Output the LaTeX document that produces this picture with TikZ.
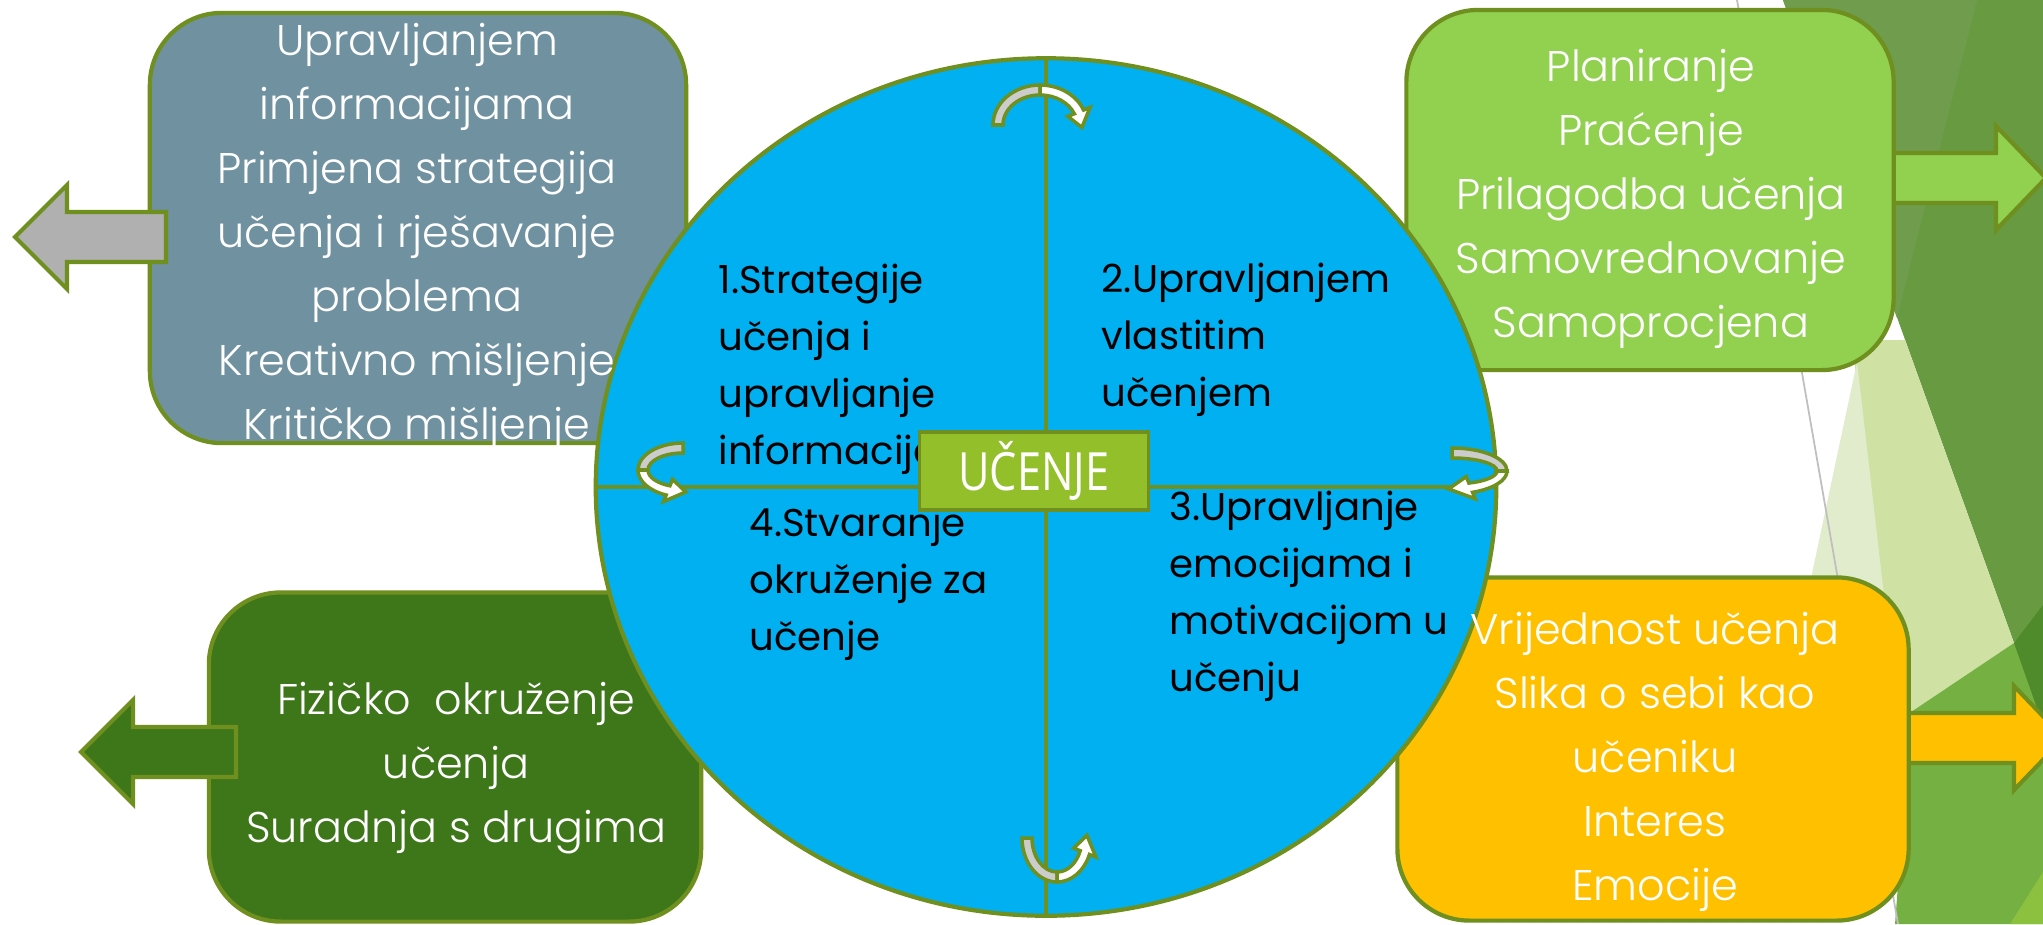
\documentclass[tikz,border=0pt]{standalone}
\usepackage{fontspec}
\setmainfont{Poppins Light}
\newfontfamily\quarterfont{Poppins}
\newfontfamily\hubfont[FakeStretch=0.82]{Open Sans}
\usetikzlibrary{shapes.geometric, positioning, calc}

\definecolor{rim}{HTML}{6F901F}
\definecolor{discblue}{HTML}{00B0F0}
\definecolor{slate}{HTML}{6F91A0}
\definecolor{leafgreen}{HTML}{92D050}
\definecolor{forest}{HTML}{3E761A}
\definecolor{gold}{HTML}{FFC000}
\definecolor{ash}{HTML}{B0B0B0}
\definecolor{hubgreen}{HTML}{93C02A}
\definecolor{facetdark}{HTML}{689A41}
\definecolor{facetband}{HTML}{6F9D4D}
\definecolor{facetpale}{HTML}{CFE1A3}
\definecolor{facetmist}{HTML}{E0ECCB}
\definecolor{facetmid}{HTML}{75B043}
\definecolor{facetdeep}{HTML}{4F8A2B}
\definecolor{facetlime}{HTML}{8CC13F}

\begin{document}
\begin{tikzpicture}[x=0.01cm, y=-0.01cm]
  % --- STYLE DEFINITIONS ---
  \tikzstyle{card}=[draw=rim, line width=1.2pt, rounded corners=0.72cm, inner sep=0pt, outer sep=0pt]
  \tikzstyle{cardtext}=[text=white, align=center, inner sep=0pt, font=\fontsize{12.2pt}{18.2pt}\selectfont]
  \tikzstyle{quartertext}=[text=black, align=left, anchor=west, inner sep=0pt, font=\quarterfont\fontsize{11pt}{16.2pt}\selectfont]
  \tikzstyle{blockarrow}=[draw=rim, line width=1.2pt, line join=miter]
  \tikzstyle{turnback}=[fill=black!20, draw=rim, line width=1pt]
  \tikzstyle{turnfront}=[fill=white, draw=rim, line width=1pt]

  % --- MACROS FOR BLOCK ARROWS ---
  \newcommand{\pointleft}[4]{ % style, tail x, tip x, centre y
    \draw[blockarrow, #1] (#2,#4-25) -- (#3+52,#4-25) -- (#3+52,#4-52) -- (#3,#4)
      -- (#3+52,#4+52) -- (#3+52,#4+25) -- (#2,#4+25) -- cycle;
  }
  \newcommand{\pointright}[4]{ % style, tail x, tip x, centre y
    \draw[blockarrow, #1] (#2,#4-25) -- (#3-50,#4-25) -- (#3-50,#4-52) -- (#3,#4)
      -- (#3-50,#4+52) -- (#3-50,#4+25) -- (#2,#4+25) -- cycle;
  }

  % --- MACRO FOR THE CURVED TURN ARROWS ---
  \newcommand{\turnarrow}[4]{ % position, transform, x radius, y radius
    \begin{scope}[shift={#1}, #2]
      \draw[turnback] (180:#3+5 and #4+5)
        arc[start angle=180, end angle=270, x radius=#3+5, y radius=#4+5]
        -- (270:#3-5 and #4-5)
        arc[start angle=270, end angle=180, x radius=#3-5, y radius=#4-5] -- cycle;
      \draw[turnfront] (270:#3+5 and #4+5)
        arc[start angle=270, end angle=338, x radius=#3+5, y radius=#4+5]
        -- (338:#3+12 and #4+12) -- (4:#3 and #4)
        -- (338:#3-12 and #4-12) -- (338:#3-5 and #4-5)
        arc[start angle=338, end angle=270, x radius=#3-5, y radius=#4-5] -- cycle;
    \end{scope}
  }

  \useasboundingbox (0,0) rectangle (2043,924);
  \clip (0,0) rectangle (2043,924);

  % =================================================================
  % BACKGROUND FACETS
  % =================================================================
  \fill[white] (0,0) rectangle (2043,924);
  \fill[facetdark] (1783,0) -- (2043,0) -- (2043,610) -- (2014,643) -- cycle;
  \fill[facetband] (1783,0) -- (1977,0) -- (1897,318) -- cycle;
  \fill[facetpale] (1855,365) -- (1855,340) -- (1905,340) -- (2014,643) -- (1911,712) -- (1880,712) -- cycle;
  \fill[facetmist] (1857,362) -- (1800,630) -- (1888,630) -- cycle;
  \fill[facetmid] (1911,712) -- (2014,643) -- (2043,620) -- (2043,924) -- (1895,924) -- cycle;
  \fill[facetdeep] (2014,643) -- (2043,605) -- (2043,725) -- cycle;
  \fill[facetlime] (2010,924) -- (2043,872) -- (2043,924) -- cycle;
  \draw[black!25, line width=0.5pt] (1737,0) -- (1898,924);

  % =================================================================
  % RIGHT ARROWS (under their boxes)
  % =================================================================
  \pointright{fill=leafgreen}{1850}{2046}{178}
  \pointright{fill=gold}{1880}{2064}{738}

  % =================================================================
  % THE FOUR BOXES
  % =================================================================
  \node[card, fill=slate, minimum width=5.36cm, minimum height=4.3cm] (info) at (418,228) {};
  \node[card, fill=leafgreen, minimum width=4.87cm, minimum height=3.6cm] (self) at (1650,190) {};
  \node[card, fill=forest, minimum width=4.92cm, minimum height=3.29cm] (space) at (455,757) {};
  \node[card, fill=gold, minimum width=5.11cm, minimum height=3.43cm] (feel) at (1653,749) {};

  % left arrows sit on top of their boxes
  \pointleft{fill=ash}{166}{15}{237}
  \pointleft{fill=forest}{236}{81}{752}

  % =================================================================
  % THE DISC AND ITS QUARTERS
  % =================================================================
  \node[ellipse, draw=rim, line width=1.2pt, fill=discblue, inner sep=0pt,
        minimum width=9cm, minimum height=8.57cm] (disc) at (1046,487) {};
  \draw[rim, line width=1.2pt] (disc.north) -- (disc.south);
  \draw[rim, line width=1.2pt] (disc.west) -- (disc.east);

  \turnarrow{(1040,125)}{}{42}{35}
  \turnarrow{(1452,471)}{rotate=-90}{18}{50}
  \turnarrow{(1057,838)}{yscale=-1}{30}{39}
  \turnarrow{(683,470)}{xscale=-1, rotate=-90}{22}{40}

  % =================================================================
  % TEXTS
  % =================================================================
  \node[cardtext] (infotext) at (417,237) {Upravljanjem\\informacijama\\Primjena strategija\\u\v{c}enja i rje\v{s}avanje\\problema\\Kreativno mi\v{s}ljenje\\Kriti\v{c}ko mi\v{s}ljenje};
  \node[cardtext] (selftext) at (1651,199) {Planiranje\\Pra\'{c}enje\\Prilagodba u\v{c}enja\\Samovrednovanje\\Samoprocjena};
  \node[cardtext] (spacetext) at (456,768) {Fizi\v{c}ko~~okru\v{z}enje\\u\v{c}enja\\Suradnja s drugima};
  \node[cardtext] (feeltext) at (1655,762) {Vrijednost u\v{c}enja\\Slika o sebi kao\\u\v{c}eniku\\Interes\\Emocije};

  \node[quartertext] (q1) at (718,369) {1.Strategije\\u\v{c}enja i\\upravljanje\\informacija};
  \node[quartertext] (q2) at (1101,340) {2.Upravljanjem\\vlastitim\\u\v{c}enjem};
  \node[quartertext] (q3) at (1169,596) {3.Upravljanje\\emocijama i\\motivacijom u\\u\v{c}enju};
  \node[quartertext] (q4) at (749,584) {4.Stvaranje\\okru\v{z}enje za\\u\v{c}enje};

  % --- centre label ---
  \node[draw=rim, line width=1pt, fill=hubgreen, text=white, inner sep=0pt,
        minimum width=2.29cm, minimum height=0.78cm,
        font=\hubfont\fontsize{15pt}{15pt}\selectfont] (hub) at (1034,471) {UČENJE};
\end{tikzpicture}
\end{document}
